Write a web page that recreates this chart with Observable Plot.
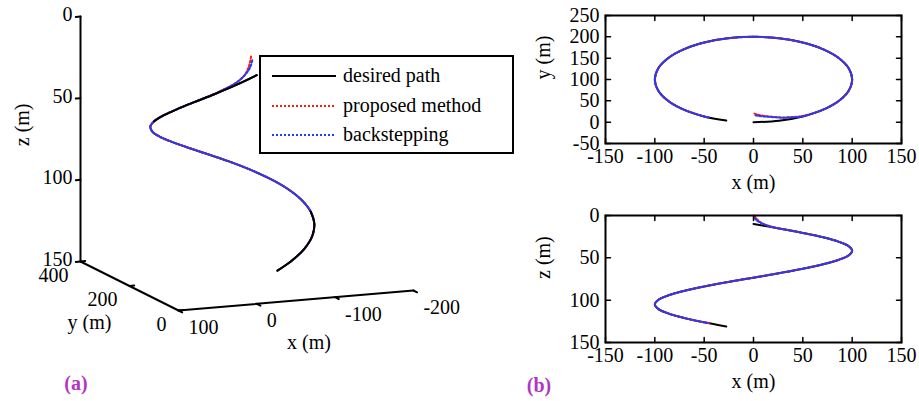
<!DOCTYPE html>
<html><head><meta charset="utf-8">
<script src="https://cdn.jsdelivr.net/npm/d3@7"></script>
<script src="https://cdn.jsdelivr.net/npm/@observablehq/plot@0.6"></script>
<style>
body{margin:0;background:#fff;}
#fig{position:relative;width:919px;height:401px;font-family:'Liberation Serif','DejaVu Serif',serif;overflow:hidden;}
.tag{position:absolute;color:#b335c4;font-weight:bold;font-size:20px;transform:translate(-50%,-50%);}
#legend{position:absolute;left:259px;top:55px;width:251px;height:95px;border:2px solid #000;background:#fff;font-size:20px;}
#legend .row{position:absolute;left:0;height:24px;width:251px;}
#legend svg{position:absolute;left:11px;top:11px;}
#legend span{position:absolute;left:82px;top:0;white-space:nowrap;line-height:24px;}
</style></head><body><div id="fig"></div><script>
// ---------- data ----------
// desired path
const desiredX = [0, 25.9, 50, 70.7, 86.6, 96.6, 100, 96.6, 86.6, 70.7, 50, 25.9, 0, -25.9, -50, -70.7, -86.6, -96.6, -100, -96.6, -86.6, -70.7, -50, -27.6];
const desiredY = [0, 3.4, 13.4, 29.3, 50, 74.1, 100, 125.9, 150, 170.7, 186.6, 196.6, 200, 196.6, 186.6, 170.7, 150, 125.9, 100, 74.1, 50, 29.3, 13.4, 3.9];
const desiredZ = [10, 15.3, 20.6, 25.8, 31.1, 36.4, 41.7, 47, 52.2, 57.5, 62.8, 68.1, 73.4, 78.6, 83.9, 89.2, 94.5, 99.8, 105, 110.3, 115.6, 120.9, 126.2, 131.1];
// proposed method
const proposedX = [1, 4, 10, 20, 30, 40, 50, 70.7, 86.6, 96.6, 100, 96.6, 86.6, 70.7, 50, 25.9, 0, -25.9, -50, -70.7, -86.6, -96.6, -100, -96.6, -86.6, -70.7, -50, -45];
const proposedY = [20, 18, 15, 12.5, 11, 12, 14.5, 29.3, 50, 74.1, 100, 125.9, 150, 170.7, 186.6, 196.6, 200, 196.6, 186.6, 170.7, 150, 125.9, 100, 74.1, 50, 29.3, 13.4, 10.7];
const proposedZ = [0, 5, 10, 13.8, 16.2, 18.3, 20.6, 25.8, 31.1, 36.4, 41.7, 47, 52.2, 57.5, 62.8, 68.1, 73.4, 78.6, 83.9, 89.2, 94.5, 99.8, 105, 110.3, 115.6, 120.9, 126.2, 127.3];
// backstepping
const backX = [0, 3, 10, 20, 30, 40, 50, 70.7, 86.6, 96.6, 100, 96.6, 86.6, 70.7, 50, 25.9, 0, -25.9, -50, -70.7, -86.6, -96.6, -100, -96.6, -86.6, -70.7, -50, -45];
const backY = [17, 15.5, 13.5, 11.8, 10.5, 11.5, 14, 29.3, 50, 74.1, 100, 125.9, 150, 170.7, 186.6, 196.6, 200, 196.6, 186.6, 170.7, 150, 125.9, 100, 74.1, 50, 29.3, 13.4, 10.7];
const backZ = [1, 5.5, 10, 13.8, 16.2, 18.3, 20.6, 25.8, 31.1, 36.4, 41.7, 47, 52.2, 57.5, 62.8, 68.1, 73.4, 78.6, 83.9, 89.2, 94.5, 99.8, 105, 110.3, 115.6, 120.9, 126.2, 127.3];
// tick labels
const xTicks3D = [100, 0, -100, -200];
const yTicks3D = [0, 200, 400];
const zTicks3D = [0, 50, 100, 150];
const xTicks2D = [-150, -100, -50, 0, 50, 100, 150];
const yTicks2D = [-50, 0, 50, 100, 150, 200, 250];
const zTicks2D = [0, 50, 100, 150];
const seriesNames = ["desired path", "proposed method", "backstepping"];

// ---------- helpers ----------
const FONT = "'Liberation Serif','DejaVu Serif',serif";
const toRows = (X, Y, Z) => X.map((x, i) => ({i, x, y: Y[i], z: Z[i]}));
const desired = toRows(desiredX, desiredY, desiredZ);
const proposed = toRows(proposedX, proposedY, proposedZ);
const back = toRows(backX, backY, backZ);

const RED = "#ff1a1a", BLUE = "#1f3cff";
const styleDes = {stroke: "black", strokeWidth: 2, curve: "catmull-rom"};
const styleProp = {stroke: RED, strokeWidth: 2, strokeDasharray: "2 2", curve: "catmull-rom"};
const styleBack = {stroke: BLUE, strokeWidth: 2, strokeDasharray: "2 2", strokeDashoffset: 2, curve: "catmull-rom"};

const fig = document.getElementById("fig");

// ---------- (a) 3-D view: oblique projection of (x, y, z) ----------
const view = {ox: 178, oy: 310, x0: 100, y0: 0, z0: 150,
  ex: [-0.783, 0.0667], ey: [-0.245, -0.1225], ez: [0, 1.633]};
const P = (x, y, z) => [
  view.ox + view.ex[0] * (x - view.x0) + view.ey[0] * (y - view.y0) + view.ez[0] * (z - view.z0),
  view.oy + view.ex[1] * (x - view.x0) + view.ey[1] * (y - view.y0) + view.ez[1] * (z - view.z0)
];
const proj = rows => rows.map(d => { const [u, v] = P(d.x, d.y, d.z); return {...d, u, v}; });
const xDom = d3.extent(xTicks3D), yDom = d3.extent(yTicks3D), zDom = d3.extent(zTicks3D);
const axisPts = [[xDom[1], yDom[1], zDom[0]], [xDom[1], yDom[1], zDom[1]], [xDom[1], yDom[0], zDom[1]], [xDom[0], yDom[0], zDom[1]]]
  .map(([x, y, z]) => { const [u, v] = P(x, y, z); return {u, v}; });
const tickRows3 = [];
const addTick = (id, p, q) => { const a = P(...p), b = P(...q); tickRows3.push({id, u: a[0], v: a[1]}, {id, u: b[0], v: b[1]}); };
zTicks3D.forEach(z => addTick("z" + z, [xDom[1], yDom[1], z], [xDom[1] + 6, yDom[1], z]));
yTicks3D.forEach(y => addTick("y" + y, [xDom[1], y, zDom[1]], [xDom[1] - 6, y, zDom[1]]));
xTicks3D.forEach(x => addTick("x" + x, [x, yDom[0], zDom[1]], [x, yDom[0] - 15, zDom[1]]));
const xLab3 = xTicks3D.map(x => { const [u, v] = P(x, yDom[0], zDom[1]); return {u, v, t: String(x)}; });
const yLab3 = yTicks3D.map(y => { const [u, v] = P(xDom[1], y, zDom[1]); return {u, v, t: String(y)}; });
const zLab3 = zTicks3D.map(z => { const [u, v] = P(xDom[1], yDom[1], z); return {u, v, t: String(z)}; });
const labX = P(-50, yDom[0], zDom[1]), labY = P(xDom[1], 200, zDom[1]), labZ = P(xDom[1], yDom[1], 70);

const d3D = proj(desired), p3D = proj(proposed), b3D = proj(back);
const front = d3D.filter(d => d.y <= 100);

const left = Plot.plot({
  width: 500, height: 401, margin: 0,
  x: {type: "identity", axis: null}, y: {type: "identity", axis: null},
  style: {position: "absolute", left: "0px", top: "0px", fontFamily: FONT, fontSize: "20px", background: "transparent", overflow: "visible"},
  marks: [
    Plot.line(axisPts, {x: "u", y: "v", stroke: "black", strokeWidth: 2}),
    Plot.line(tickRows3, {x: "u", y: "v", z: "id", stroke: "black", strokeWidth: 2}),
    Plot.text(zLab3, {x: "u", y: "v", text: "t", textAnchor: "end", dx: -8, dy: -2, fill: "black", fontFamily: FONT}),
    Plot.text(yLab3, {x: "u", y: "v", text: "t", textAnchor: "end", dx: -12, dy: 14, fill: "black", fontFamily: FONT}),
    Plot.text(xLab3, {x: "u", y: "v", text: "t", textAnchor: "start", dx: 10, dy: 17, fill: "black", fontFamily: FONT}),
    Plot.text(["x (m)"], {x: () => labX[0], y: () => labX[1], text: d => d, dx: 13, dy: 42, fill: "black", fontFamily: FONT}),
    Plot.text(["y (m)"], {x: () => labY[0], y: () => labY[1], text: d => d, dx: -40, dy: 37, fill: "black", fontFamily: FONT}),
    Plot.text(["z (m)"], {x: () => labZ[0], y: () => labZ[1], text: d => d, dx: -58, dy: -6, rotate: -90, fill: "black", fontFamily: FONT}),
    Plot.line(d3D, {x: "u", y: "v", ...styleDes}),
    Plot.line(p3D, {x: "u", y: "v", ...styleProp}),
    Plot.line(b3D, {x: "u", y: "v", ...styleBack}),
    Plot.line(front, {x: "u", y: "v", z: d => d.i < 12 ? 0 : 1, ...styleDes})
  ]
});
fig.appendChild(left);

// ---------- (b) 2-D projections ----------
const W2 = 419, ML = 105, MR = 18, MT = 15;
function panel2D({top, height, mb, yKey, yDomain, yTicks, reverse, yLabel}) {
  const fw = W2 - ML - MR, fh = height - MT - mb;
  const [x0, x1] = d3.extent(xTicks2D);
  const yb = reverse ? yDomain[1] : yDomain[0];   // value at the bottom edge
  const yt = reverse ? yDomain[0] : yDomain[1];   // value at the top edge
  const kx = (x1 - x0) / fw * 5, ky = (yt - yb) / fh * 5;  // 5 px inward ticks, in data units
  const tk = [];
  xTicks2D.forEach(x => {
    tk.push({id: "b" + x, x, y: yb}, {id: "b" + x, x, y: yb + ky});
    tk.push({id: "t" + x, x, y: yt}, {id: "t" + x, x, y: yt - ky});
  });
  yTicks.forEach(y => {
    tk.push({id: "l" + y, x: x0, y}, {id: "l" + y, x: x0 + kx, y});
    tk.push({id: "r" + y, x: x1, y}, {id: "r" + y, x: x1 - kx, y});
  });
  const svg = Plot.plot({
    width: W2, height, marginLeft: ML, marginRight: MR, marginTop: MT, marginBottom: mb,
    x: {domain: [x0, x1], axis: null},
    y: {domain: yDomain, reverse, axis: null},
    style: {position: "absolute", left: "500px", top: top + "px", fontFamily: FONT, fontSize: "20px", background: "transparent", overflow: "visible"},
    marks: [
      Plot.line(desired, {x: "x", y: yKey, ...styleDes}),
      Plot.line(proposed, {x: "x", y: yKey, ...styleProp}),
      Plot.line(back, {x: "x", y: yKey, ...styleBack}),
      Plot.line(tk, {x: "x", y: "y", z: "id", stroke: "black", strokeWidth: 1.5}),
      Plot.frame({stroke: "black", strokeWidth: 2}),
      Plot.text(xTicks2D, {x: d => d, frameAnchor: "bottom", dy: 19, text: d => String(d), fill: "black", fontFamily: FONT}),
      Plot.text(yTicks, {y: d => d, frameAnchor: "left", dx: -6, textAnchor: "end", text: d => String(d), fill: "black", fontFamily: FONT}),
      Plot.text(["x (m)"], {frameAnchor: "bottom", dy: 45, text: d => d, fill: "black", fontFamily: FONT}),
      Plot.text([yLabel], {frameAnchor: "left", dx: -62, rotate: -90, text: d => d, fill: "black", fontFamily: FONT})
    ]
  });
  fig.appendChild(svg);
}
panel2D({top: 0, height: 200, mb: 57, yKey: "y", yDomain: d3.extent(yTicks2D), yTicks: yTicks2D, reverse: false, yLabel: "y (m)"});
panel2D({top: 200, height: 201, mb: 59, yKey: "z", yDomain: d3.extent(zTicks2D), yTicks: zTicks2D, reverse: true, yLabel: "z (m)"});

// ---------- legend ----------
const legend = document.createElement("div");
legend.id = "legend";
const legStyles = [styleDes, styleProp, styleBack];
seriesNames.forEach((name, k) => {
  const row = document.createElement("div");
  row.className = "row";
  row.style.top = (6 + k * 29.5) + "px";
  const s = legStyles[k];
  row.innerHTML = `<svg width="64" height="4"><line x1="0" x2="64" y1="2" y2="2" stroke="${s.stroke}" stroke-width="2" ${s.strokeDasharray ? `stroke-dasharray="${s.strokeDasharray}"` : ""}/></svg><span>${name}</span>`;
  legend.appendChild(row);
});
fig.appendChild(legend);

// ---------- panel tags ----------
[["(a)", 76, 383], ["(b)", 539, 385]].forEach(([t, x, y]) => {
  const s = document.createElement("div");
  s.className = "tag"; s.textContent = t;
  s.style.left = x + "px"; s.style.top = y + "px";
  fig.appendChild(s);
});
</script></body></html>
